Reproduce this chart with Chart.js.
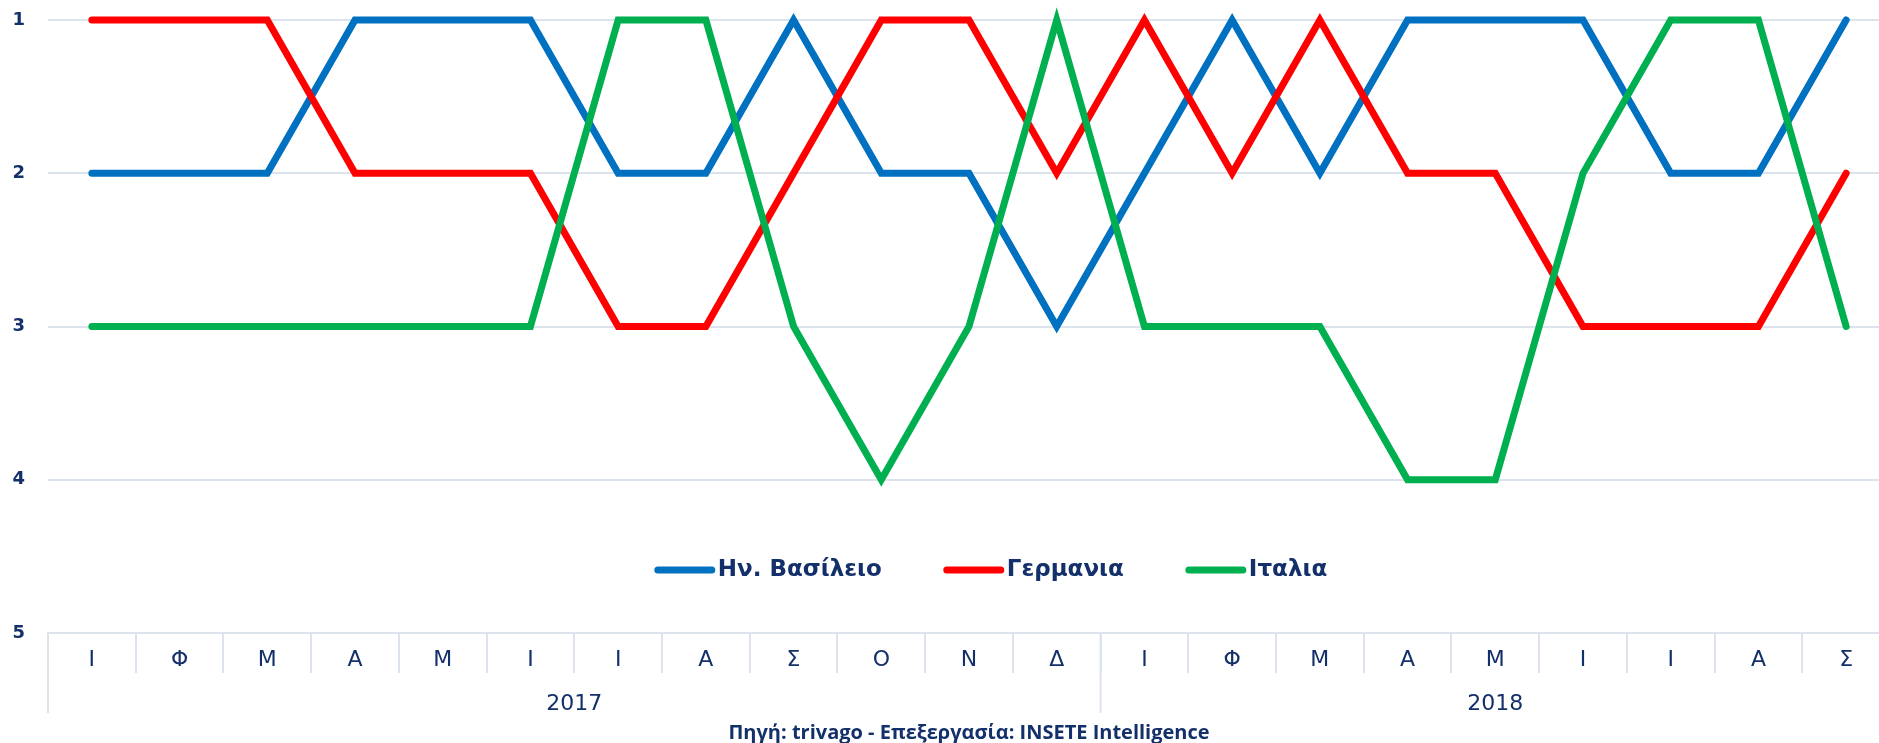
<!DOCTYPE html>
<html>
<head>
<meta charset="utf-8">
<script src="https://cdn.jsdelivr.net/npm/chart.js@4"></script>
<style>
html, body { margin: 0; padding: 0; background: #fff; overflow: hidden; }
#wrap { position: relative; width: 1890px; height: 743px; }
</style>
</head>
<body>
<div id="wrap"><canvas id="rankChart"></canvas></div>
<script>
// Data
var months = ['Ι', 'Φ', 'Μ', 'Α', 'Μ', 'Ι', 'Ι', 'Α', 'Σ', 'Ο', 'Ν', 'Δ', 'Ι', 'Φ', 'Μ', 'Α', 'Μ', 'Ι', 'Ι', 'Α', 'Σ'];
var years = ['2017', '2018'];
var monthsPerYear = [12, 9];
var rankTicks = [1, 2, 3, 4, 5];
var ukRank = [2, 2, 2, 1, 1, 1, 2, 2, 1, 2, 2, 3, 2, 1, 2, 1, 1, 1, 2, 2, 1];
var deRank = [1, 1, 1, 2, 2, 2, 3, 3, 2, 1, 1, 2, 1, 2, 1, 2, 2, 3, 3, 3, 2];
var itRank = [3, 3, 3, 3, 3, 3, 1, 1, 3, 4, 3, 1, 3, 3, 3, 4, 4, 2, 1, 1, 3];
var seriesNames = ['Ην. Βασίλειο', 'Γερμανια', 'Ιταλια'];
var sourceText = 'Πηγή: trivago - Επεξεργασία: INSETE Intelligence';

var navy = '#13306a';
var gridColor = '#dde3ec';

// Year row under the month labels + source line
var yearRowPlugin = {
	id: 'yearRow',
	afterDraw: function (chart) {
		var ctx = chart.ctx;
		var xs = chart.scales.x;
		var area = chart.chartArea;
		var half = (xs.getPixelForValue(1) - xs.getPixelForValue(0)) / 2;
		var start = 0;
		ctx.save();
		ctx.strokeStyle = gridColor;
		ctx.lineWidth = 2;
		ctx.fillStyle = navy;
		ctx.font = '22px "DejaVu Sans"';
		ctx.textAlign = 'center';
		ctx.textBaseline = 'middle';
		years.forEach(function (yr, i) {
			var x0 = xs.getPixelForValue(start) - half;
			var x1 = xs.getPixelForValue(start + monthsPerYear[i] - 1) + half;
			ctx.beginPath();
			ctx.moveTo(x0, area.bottom);
			ctx.lineTo(x0, area.bottom + 80);
			ctx.stroke();
			ctx.fillText(yr, (x0 + x1) / 2, area.bottom + 71);
			start += monthsPerYear[i];
		});
		ctx.font = 'bold 20px "Open Sans"';
		ctx.fillText(sourceText, (area.left + area.right) / 2, area.bottom + 100);
		ctx.restore();
	}
};

// Legend drawn inside the plot area
var insideLegendPlugin = {
	id: 'insideLegend',
	afterDraw: function (chart) {
		var ctx = chart.ctx;
		var area = chart.chartArea;
		var sets = chart.data.datasets;
		var lineLen = 60, gapText = 3, gapItem = 62;
		ctx.save();
		ctx.font = 'bold 23px "DejaVu Sans"';
		var total = 0;
		sets.forEach(function (ds, i) {
			total += lineLen + gapText + ctx.measureText(ds.label).width;
			if (i < sets.length - 1) total += gapItem;
		});
		var x = (area.left + area.right) / 2 + 22 - total / 2;
		var y = area.bottom - 63;
		ctx.textBaseline = 'middle';
		ctx.textAlign = 'left';
		sets.forEach(function (ds) {
			ctx.strokeStyle = ds.borderColor;
			ctx.lineWidth = 7;
			ctx.lineCap = 'round';
			ctx.beginPath();
			ctx.moveTo(x + 3, y);
			ctx.lineTo(x + lineLen - 3, y);
			ctx.stroke();
			x += lineLen + gapText;
			ctx.fillStyle = navy;
			ctx.fillText(ds.label, x, y);
			x += ctx.measureText(ds.label).width + gapItem;
		});
		ctx.restore();
	}
};

var makeSet = function (name, values, color, order) {
	return {
		label: name,
		data: values,
		borderColor: color,
		backgroundColor: color,
		borderWidth: 7,
		pointRadius: 0,
		tension: 0,
		borderCapStyle: 'round',
		borderJoinStyle: 'miter',
		clip: false,
		order: order
	};
};

var ctx = document.getElementById('rankChart').getContext('2d');
new Chart(ctx, {
	type: 'line',
	data: {
		labels: months,
		datasets: [
			makeSet(seriesNames[0], ukRank, '#0070c0', 3),
			makeSet(seriesNames[1], deRank, '#ff0000', 2),
			makeSet(seriesNames[2], itRank, '#00b050', 1)
		]
	},
	options: {
		responsive: true,
		maintainAspectRatio: false,
		animation: false,
		layout: { padding: { top: 20, right: 0, left: 0, bottom: 0 } },
		plugins: {
			legend: { display: false },
			tooltip: { enabled: false }
		},
		scales: {
			x: {
				offset: true,
				grid: { offset: true, drawOnChartArea: false, drawTicks: true, tickLength: 40, color: gridColor, lineWidth: 2 },
				border: { display: true, color: gridColor, width: 2 },
				ticks: { color: navy, font: { family: 'DejaVu Sans', size: 22 }, padding: -26, maxRotation: 0, autoSkip: false },
				afterFit: function (scale) { scale.height = 110; }
			},
			y: {
				reverse: true,
				min: rankTicks[0],
				max: rankTicks[rankTicks.length - 1],
				afterBuildTicks: function (scale) {
					scale.ticks = rankTicks.map(function (v) { return { value: v }; });
				},
				grid: { color: gridColor, lineWidth: 2, drawTicks: false },
				border: { display: false },
				ticks: { color: navy, font: { family: 'DejaVu Sans', size: 18, weight: 'bold' }, padding: 23 },
				afterFit: function (scale) {
					scale.width = 48;
					scale.paddingTop = 0;
					scale.paddingBottom = 0;
				}
			}
		}
	},
	plugins: [yearRowPlugin, insideLegendPlugin]
});
</script>
</body>
</html>
